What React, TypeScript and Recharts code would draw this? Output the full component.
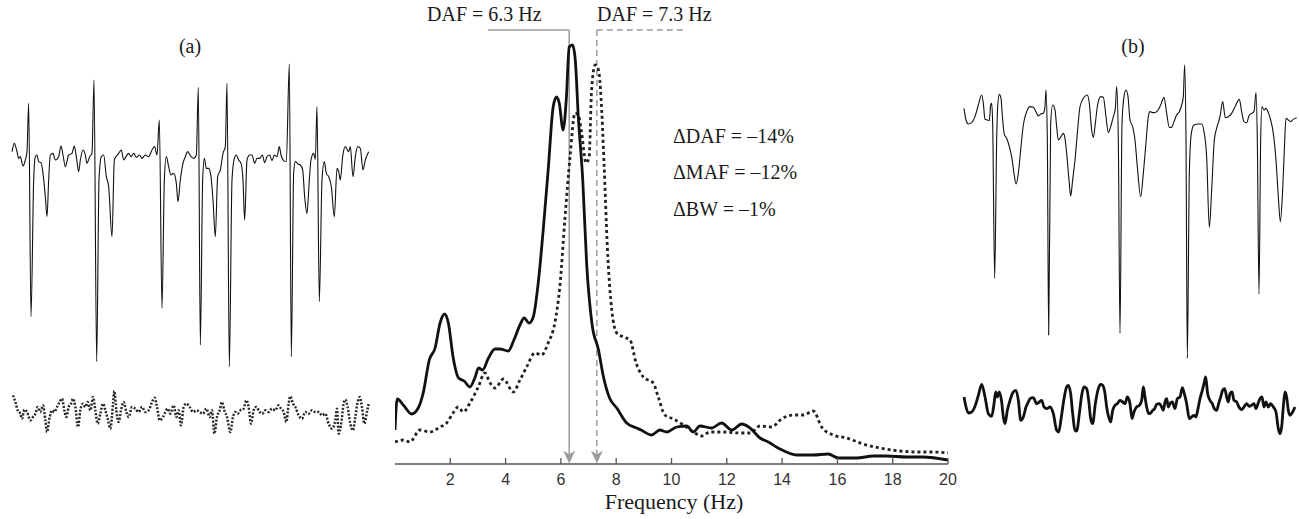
import React from "react";
import { LineChart, Line, XAxis, YAxis, ReferenceLine } from "recharts";

const SERIF = '"Liberation Serif", "Times New Roman", serif';
const SANS = '"Liberation Sans", Arial, sans-serif';
const AXIS = "#555";
const GUIDE = "#9a9a9a";
const INK = "#111";

// ---- spectrum (Hz, relative power in arbitrary units) ----
const freqTicks = [2, 4, 6, 8, 10, 12, 14, 16, 18, 20];
const powerMax = 436;
const dafSolid = 6.3;
const dafDotted = 7.3;
const leaderSolidStart = 3.36;
const leaderDottedEnd = 10.48;
const leaderLevel = 434;
const dafLabels = ["DAF = 6.3 Hz", "DAF = 7.3 Hz"];
const deltaLabels = ["ΔDAF = –14%", "ΔMAF = –12%", "ΔBW = –1%"];
const panelLabels = ["(a)", "(b)"];

const spectrumSolid: [number, number][] = [
  [0, 34], [0.08, 65], [0.3, 59], [0.6, 50], [0.84, 56], [1.02, 71], [1.24, 104], [1.45, 116],
  [1.63, 141], [1.79, 150], [1.93, 141], [2.1, 107], [2.3, 86], [2.5, 83], [2.71, 77], [2.9, 87],
  [3.02, 96], [3.17, 94], [3.38, 106], [3.62, 115], [3.8, 115], [4.1, 113], [4.3, 124], [4.52, 139],
  [4.67, 146], [4.85, 141], [5.0, 147], [5.18, 181], [5.36, 234], [5.54, 294], [5.72, 357],
  [5.84, 367], [5.94, 361], [6.08, 334], [6.2, 367], [6.3, 417], [6.42, 419], [6.52, 404],
  [6.63, 347], [6.79, 284], [6.93, 201], [7.12, 141], [7.36, 114], [7.54, 87], [7.76, 66],
  [8.02, 56], [8.38, 41], [8.74, 36], [8.9, 34], [9.28, 29], [9.58, 34], [9.83, 32], [10.19, 37],
  [10.55, 38], [10.79, 32], [11.03, 38], [11.45, 36], [11.81, 41], [12.18, 34], [12.54, 40],
  [12.84, 36], [13.2, 26], [13.5, 22], [13.92, 15], [14.53, 9], [15.13, 9], [15.67, 10],
  [16.03, 6], [16.7, 6], [17.3, 8], [17.78, 8], [18.5, 7], [19.1, 7], [20, 4],
];

const spectrumDotted: [number, number][] = [
  [0, 22], [0.3, 24], [0.54, 22], [0.9, 34], [1.27, 32], [1.63, 37], [1.87, 41], [2.1, 51],
  [2.29, 57], [2.47, 52], [2.71, 61], [3.01, 77], [3.25, 91], [3.44, 81], [3.62, 76], [3.92, 85],
  [4.28, 72], [4.52, 84], [4.76, 97], [5.06, 111], [5.3, 109], [5.54, 121], [5.78, 141],
  [5.96, 177], [6.15, 247], [6.33, 307], [6.51, 351], [6.63, 349], [6.75, 331], [6.91, 301],
  [7.02, 307], [7.11, 374], [7.24, 399], [7.36, 394], [7.45, 367], [7.56, 301], [7.68, 217],
  [7.84, 154], [8.02, 131], [8.26, 127], [8.5, 124], [8.72, 101], [8.98, 87], [9.34, 81],
  [9.52, 67], [9.76, 49], [10.07, 45], [10.43, 39], [10.79, 32], [11.09, 28], [11.39, 32],
  [11.87, 32], [12.48, 31], [12.84, 31], [13.2, 38], [13.62, 37], [13.98, 45], [14.4, 49],
  [14.77, 49], [15.13, 53], [15.43, 37], [15.85, 29], [16.33, 26], [16.93, 20], [17.54, 16],
  [18.26, 13], [18.87, 12], [19.47, 12], [20, 11],
];

// ---- time traces (sample time, amplitude; arbitrary units) ----
const ecgA: [number, number][] = [
  [35, 15], [42, 40], [50, 15], [55, -5], [60, 0], [68, -28], [75, -10], [80, 15], [85, 160],
  [92, -480], [100, -70], [105, 0], [110, 5], [115, -15], [122, -18], [128, -50], [135, -120],
  [140, -180], [145, -70], [150, 5], [158, 10], [165, -10], [175, 0], [182, 32], [188, 5],
  [195, -30], [205, 5], [215, 10], [222, 32], [228, 0], [235, -45], [240, -10], [248, 20],
  [255, 5], [260, -20], [268, 0], [275, 10], [281, 230], [289, -615], [296, -70], [303, 0],
  [310, 5], [318, -60], [325, -90], [335, -240], [342, -10], [347, 0], [355, 10], [363, 20],
  [370, -10], [377, 0], [385, 10], [392, 0], [400, 10], [408, -2], [418, 5], [425, -5], [435, 5],
  [445, 0], [455, 20], [463, 30], [470, 5], [477, 110], [485, -455], [492, -70], [498, 0],
  [505, -30], [512, -55], [520, -50], [528, -80], [533, -135], [540, -70], [548, -20], [555, 0],
  [562, 15], [572, 0], [580, -5], [588, 5], [594, 208], [600, -565], [607, -70], [612, -5],
  [618, -35], [625, -35], [632, -60], [638, -130], [645, -240], [652, -60], [660, -40], [668, 10],
  [675, 30], [680, 220], [687, -630], [695, -70], [702, -5], [708, 5], [715, -10], [722, -20],
  [728, -70], [733, -190], [740, -10], [748, 5], [755, 5], [763, -20], [770, -5], [778, -5],
  [786, 5], [793, -18], [800, 0], [808, 5], [815, -12], [822, 5], [830, 0], [837, 30], [842, 5],
  [850, -12], [858, -15], [867, 278], [873, -600], [880, -50], [885, -15], [893, -22], [900, -25],
  [907, -40], [913, -120], [920, -170], [927, -70], [932, -10], [940, 10], [945, -8], [950, 150],
  [957, -435], [965, -70], [972, -15], [978, -50], [985, -60], [993, -90], [1002, -180],
  [1010, -35], [1015, -45], [1020, -70], [1027, 0], [1035, 30], [1045, 15], [1050, 30],
  [1058, -60], [1065, 0], [1072, 30], [1080, 25], [1088, -40], [1095, -10], [1105, 15],
];

const noiseA: [number, number][] = [
  [38, 50], [45, 30], [52, 5], [60, -5], [65, -20], [72, 7], [80, 0], [90, -25], [98, -15],
  [105, -5], [112, 15], [120, 0], [128, 20], [135, -25], [140, -60], [148, -15], [155, 5],
  [162, 0], [170, 15], [178, 30], [185, 40], [192, 5], [198, -15], [205, 15], [212, 25], [218, 40],
  [225, 15], [233, -45], [240, 5], [248, 25], [255, 15], [262, 30], [270, 5], [278, 45], [285, 5],
  [292, -35], [300, -5], [308, 25], [315, 5], [322, -20], [330, -50], [338, 25], [342, 63],
  [348, 5], [355, -30], [362, 5], [370, 30], [378, 0], [385, -15], [395, 15], [405, 10], [415, 0],
  [425, 15], [435, 0], [445, 5], [455, 30], [463, 43], [470, 15], [478, -25], [488, -15], [495, 0],
  [502, 10], [510, -5], [520, 20], [528, -15], [535, 5], [542, -40], [550, 15], [558, 25],
  [568, 15], [578, 0], [588, 5], [598, 0], [608, -5], [618, 10], [628, -15], [635, 5], [642, -65],
  [650, -15], [658, 5], [665, 30], [672, 5], [680, -15], [690, -60], [698, -15], [705, 0],
  [712, -5], [720, 5], [730, 10], [738, 35], [745, 15], [752, -35], [760, 5], [768, 15], [778, 0],
  [786, -5], [795, 5], [805, 0], [815, 10], [825, 5], [835, 20], [842, 10], [850, 0], [858, -30],
  [865, 25], [870, 47], [878, 25], [885, 15], [895, -10], [905, -20], [915, 0], [925, -5],
  [935, 5], [945, 0], [955, 0], [965, -10], [975, -5], [985, -35], [995, -50], [1005, -25],
  [1010, 10], [1015, -65], [1022, -40], [1030, 25], [1035, 37], [1042, 15], [1050, -35],
  [1058, -55], [1065, -15], [1072, 30], [1078, 45], [1085, 15], [1092, -35], [1100, 0], [1105, 25],
];

const ecgB: [number, number][] = [
  [42, 25], [48, -10], [55, -22], [65, -18], [75, 0], [85, 35], [95, 65], [100, 40], [105, -8],
  [112, -10], [118, -12], [122, 35], [125, 40], [128, -20], [134, -485], [140, -70], [143, 30],
  [148, 67], [153, 55], [158, -10], [163, -53], [170, -65], [178, -90], [185, -120], [192, -170],
  [198, -202], [205, -170], [212, -100], [220, -25], [230, 15], [240, 30], [250, 28], [258, 15],
  [265, 2], [272, 8], [280, 10], [285, 30], [288, 80], [292, -70], [296, -655], [302, -20],
  [308, 35], [315, 20], [320, -30], [325, -70], [333, -60], [340, -50], [345, -65], [350, -110],
  [357, -190], [362, -238], [368, -190], [375, -130], [382, -50], [390, 30], [400, 55], [412, 65],
  [418, 40], [425, -40], [430, -62], [436, -20], [442, 30], [452, 60], [460, 58], [468, 0],
  [475, -48], [482, -30], [490, 0], [496, 25], [500, 90], [505, -70], [510, -650], [516, -20],
  [522, 60], [528, 80], [534, 60], [540, -10], [548, -30], [555, -70], [562, -150], [572, -240],
  [580, -170], [587, -90], [595, 0], [600, 15], [610, 12], [620, 15], [632, 35], [642, 58],
  [650, 10], [658, -32], [665, -32], [672, -15], [680, 5], [688, 15], [695, 35], [700, 60],
  [704, 155], [708, -70], [712, -725], [718, -170], [724, -50], [732, -25], [745, -22], [755, -22],
  [762, -45], [770, -120], [778, -332], [785, -220], [793, -70], [800, -35], [810, 0], [818, 45],
  [826, -3], [835, 0], [845, 10], [855, 30], [868, 52], [875, 15], [882, -15], [890, -18],
  [898, 5], [905, 10], [912, 15], [918, 72], [922, -70], [927, -532], [932, -70], [936, 30],
  [942, 20], [948, 25], [955, 12], [962, -10], [970, -50], [978, -130], [985, -240], [991, -315],
  [998, -220], [1003, -100], [1008, -5], [1015, -10], [1022, -15], [1030, -8], [1040, -3],
];

const noiseB: [number, number][] = [
  [42, 25], [48, -5], [55, -23], [65, -20], [75, -3], [85, 30], [95, 63], [105, 25], [115, -25],
  [125, -33], [132, 5], [137, 40], [142, 25], [148, 40], [155, 10], [160, -35], [165, -55],
  [172, -15], [180, 15], [190, 40], [198, 45], [205, 15], [212, -45], [220, -35], [228, -5],
  [235, 10], [240, 20], [250, 23], [260, 5], [268, 10], [275, 15], [282, -5], [290, -10],
  [300, -5], [310, -25], [320, -75], [326, -80], [334, -35], [342, 20], [350, 55], [355, 60],
  [362, 35], [368, -25], [375, -75], [380, -77], [388, -25], [395, 30], [402, 55], [410, 50],
  [416, 15], [422, -40], [428, -55], [436, 5], [445, 50], [452, 63], [458, 60], [465, 35],
  [470, -5], [476, -35], [482, -50], [488, -15], [495, 0], [502, 5], [510, 15], [518, 10],
  [525, 5], [532, 25], [540, 5], [546, -40], [552, -20], [560, -5], [568, 0], [575, 15], [580, 55],
  [585, 25], [590, -5], [596, -25], [602, -23], [608, -15], [614, -10], [620, 3], [628, 5],
  [635, -5], [640, -15], [645, 10], [650, 20], [655, -5], [660, 5], [667, 10], [675, -10],
  [682, 20], [690, 25], [697, 53], [703, 35], [710, 5], [718, -40], [725, -35], [732, -30],
  [738, -35], [743, -15], [750, 20], [757, 45], [762, 65], [767, 85], [773, 35], [780, 15],
  [787, 5], [793, -10], [800, -15], [806, 5], [812, 25], [818, 45], [824, 50], [830, 25], [835, 10],
  [840, 35], [846, 40], [852, 15], [860, 10], [868, -7], [875, -13], [882, -5], [890, 5], [898, -3],
  [905, 0], [912, 5], [918, -10], [924, 5], [930, 20], [936, 25], [942, -5], [948, 10], [955, -5],
  [962, 5], [970, -5], [978, -20], [985, -70], [990, -85], [995, -65], [1000, -5], [1005, 40],
  [1010, 25], [1015, -15], [1020, -30], [1028, -20], [1035, -5],
];

const toRows = (pts: [number, number][], k: string) => pts.map(([a, b]) => ({ [k]: a, v: b }));

// one trace = one small axis-less chart; time/amplitude units are 3 per pixel
function Trace({
  points, originX, originY, base, color = INK, width = 1.1, dash, curve = "monotone",
}: {
  points: [number, number][];
  originX: number;
  originY: number;
  base: number;
  color?: string;
  width?: number;
  dash?: string;
  curve?: "linear" | "monotone";
}) {
  const ts = points.map((p) => p[0]);
  const vs = points.map((p) => p[1]);
  const tMin = Math.min(...ts);
  const tMax = Math.max(...ts);
  const vMin = Math.min(...vs);
  const vMax = Math.max(...vs);
  const pad = 4;
  const w = (tMax - tMin) / 3;
  const h = (vMax - vMin) / 3;
  return (
    <div style={{ position: "absolute", left: originX + tMin / 3 - pad, top: originY + (base - vMax) / 3 - pad }}>
      <LineChart width={w + 2 * pad} height={h + 2 * pad} data={toRows(points, "t")}
        margin={{ top: pad, right: pad, bottom: pad, left: pad }}>
        <XAxis type="number" dataKey="t" domain={[tMin, tMax]} hide />
        <YAxis type="number" domain={[vMin, vMax]} hide />
        <Line dataKey="v" type={curve} stroke={color} strokeWidth={width} strokeDasharray={dash}
          dot={false} isAnimationActive={false} />
      </LineChart>
    </div>
  );
}

const FreqTick = (props: any) => {
  const { x, y, payload } = props;
  return (
    <g>
      <line x1={x} x2={x} y1={y - 6} y2={y} stroke={AXIS} strokeWidth={1.3} />
      <text x={x} y={y + 21} textAnchor="middle" fontFamily={SANS} fontSize={16} fill="#333">
        {payload.value}
      </text>
    </g>
  );
};

const TopTick = (props: any) => (
  <line x1={props.x} x2={props.x + 6} y1={props.y} y2={props.y} stroke={AXIS} strokeWidth={1.3} />
);

const arrowShape = (dashed: boolean) => (p: any) => {
  const x = p.x2;
  const top = Math.min(p.y1, p.y2);
  const tip = Math.max(p.y1, p.y2);
  return (
    <g>
      <line x1={x} x2={x} y1={top} y2={tip - 9} stroke={GUIDE} strokeWidth={1.5}
        strokeDasharray={dashed ? "6 4" : undefined} />
      <path d={`M${x},${tip} L${x - 6},${tip - 13} L${x},${tip - 9} L${x + 6},${tip - 13} Z`} fill={GUIDE} />
    </g>
  );
};

function Spectrum() {
  const m = { top: 8, right: 14, bottom: 0, left: 8 };
  const plotW = 553;
  const plotH = 436;
  return (
    <div style={{ position: "absolute", left: 395 - m.left, top: 28 - m.top }}>
      <LineChart width={m.left + plotW + m.right} height={m.top + plotH + 40} margin={m}>
        <XAxis type="number" dataKey="f" domain={[0, 20]} ticks={freqTicks} tick={<FreqTick />}
          tickSize={0} tickMargin={0} tickLine={false} height={40} interval={0}
          axisLine={{ stroke: AXIS, strokeWidth: 1.5 }} allowDataOverflow />
        <YAxis type="number" domain={[0, powerMax]} ticks={[powerMax]} tick={<TopTick />} width={0}
          tickSize={0} tickMargin={0} tickLine={false} axisLine={{ stroke: AXIS, strokeWidth: 1.5 }} />
        <ReferenceLine segment={[{ x: leaderSolidStart, y: leaderLevel }, { x: dafSolid, y: leaderLevel }]}
          stroke={GUIDE} strokeWidth={1.5} />
        <ReferenceLine segment={[{ x: dafSolid, y: leaderLevel }, { x: dafSolid, y: 0.5 }]}
          stroke={GUIDE} shape={arrowShape(false)} />
        <ReferenceLine segment={[{ x: dafDotted, y: leaderLevel }, { x: leaderDottedEnd, y: leaderLevel }]}
          stroke={GUIDE} strokeWidth={1.5} strokeDasharray="6 4" />
        <ReferenceLine segment={[{ x: dafDotted, y: leaderLevel }, { x: dafDotted, y: 0.5 }]}
          stroke={GUIDE} shape={arrowShape(true)} />
        <Line data={toRows(spectrumDotted, "f")} dataKey="v" type="monotone" stroke="#222" strokeWidth={2.8}
          strokeDasharray="3 3" dot={false} isAnimationActive={false} />
        <Line data={toRows(spectrumSolid, "f")} dataKey="v" type="monotone" stroke={INK} strokeWidth={2.8}
          dot={false} isAnimationActive={false} />
      </LineChart>
    </div>
  );
}

const Label = ({ text, left, top, center }: { text: string; left: number; top: number; center?: boolean }) => (
  <div style={{
    position: "absolute", left: center ? left - 60 : left, top, width: center ? 120 : undefined,
    textAlign: center ? "center" : "left", fontFamily: SERIF, fontSize: 20, lineHeight: "20px",
    color: "#1a1a1a", whiteSpace: "nowrap",
  }}>
    {text}
  </div>
);

export default function App() {
  return (
    <div style={{ position: "absolute", left: 0, top: 0, width: 1299, height: 519, background: "#fff", overflow: "hidden" }}>
      <Label text={panelLabels[0]} left={190} top={36} center />
      <Label text={panelLabels[1]} left={1133} top={36} center />
      <Trace points={ecgA} originX={0} originY={40} base={350} />
      <Trace points={noiseA} originX={0} originY={370} base={125} color="#2a2a2a" width={2.5} dash="2 1.6" />
      <Trace points={ecgB} originX={950} originY={40} base={230} />
      <Trace points={noiseB} originX={950} originY={370} base={105} width={2.8} />
      <Spectrum />
      <Label text={dafLabels[0]} left={427} top={4} />
      <Label text={dafLabels[1]} left={597} top={4} />
      <Label text={deltaLabels[0]} left={673} top={126} />
      <Label text={deltaLabels[1]} left={673} top={162} />
      <Label text={deltaLabels[2]} left={673} top={199} />
      <div style={{ position: "absolute", left: 574, width: 200, top: 491, textAlign: "center",
        fontFamily: SERIF, fontSize: 22, lineHeight: "22px", color: "#1a1a1a" }}>
        Frequency (Hz)
      </div>
    </div>
  );
}
